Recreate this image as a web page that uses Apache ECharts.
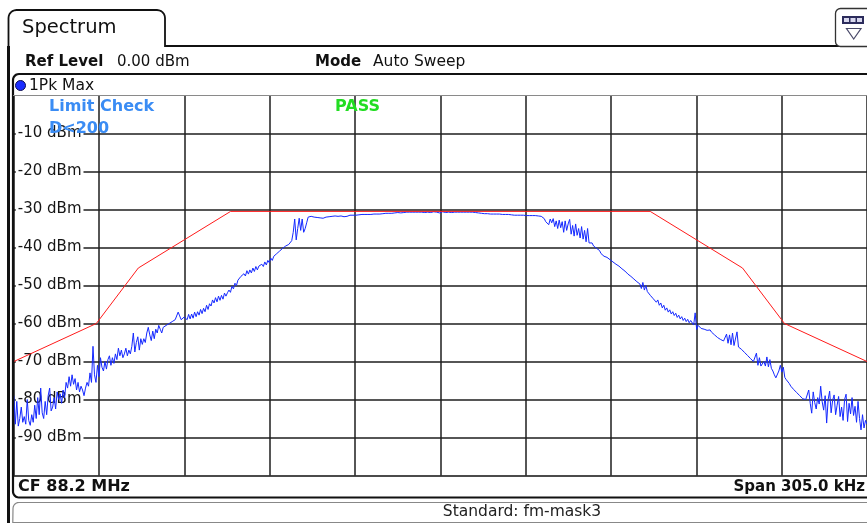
<!DOCTYPE html>
<html>
<head>
<meta charset="utf-8">
<script src="https://cdn.jsdelivr.net/npm/echarts@6/dist/echarts.min.js"></script>
<style>
  html, body { margin: 0; padding: 0; background: #fff; }
  #c { width: 867px; height: 525px; }
</style>
</head>
<body>
<div id="c"></div>
<script>
// Sweep: centre frequency and span (offsets in kHz from CF)
const centerMHz = 88.2;
const spanKHz = 305.0;

// Y-axis scale (dBm)
const refLevel = 0;
const bottomLevel = -100;
const yStep = 10;

// 1Pk Max trace, dBm, one value per sweep point across the full span
const traceLowerSkirt = [
  -79.0, -86.5, -80.5, -87.0, -85.0, -82.0, -86.0, -84.5, -86.5, -80.0,
  -85.5, -86.8, -84.0, -86.0, -81.5, -85.0, -79.5, -84.0, -77.0, -83.5,
  -85.0, -80.5, -84.0, -79.0, -77.0, -83.0, -82.0, -79.5, -82.5, -78.0,
  -80.0, -78.5, -81.0, -77.5, -79.5, -75.5, -77.0, -74.0, -76.5, -73.5,
  -76.0, -74.5, -77.5, -75.5, -78.0, -76.5, -77.5, -79.0, -77.0, -75.5,
  -76.5, -73.0, -75.5, -66.0, -73.5, -75.5, -71.0, -74.0,
  -69.0, -71.5, -72.5, -70.0, -72.0, -69.5, -68.5, -71.0, -69.0, -70.5,
  -68.0, -69.5, -66.5, -68.5, -67.0, -69.0, -68.0, -66.5, -68.5, -67.0,
  -68.0, -66.0, -62.5, -67.5, -65.0, -63.5, -67.0, -64.0, -65.5, -64.0,
  -65.0, -62.5, -61.0, -63.0, -64.5, -62.0, -64.0, -61.5, -62.5, -60.5,
  -61.5, -62.5, -61.0, -61.5, -60.5, -61.0, -60.0, -60.5, -59.5, -60.0,
  -59.0, -59.5, -57.0, -58.0, -59.0, -58.5, -58.3
];
const traceLowerSlope = [
  -58.0, -59.0, -57.6, -58.8, -57.5, -58.6, -57.0, -58.2, -56.9, -57.8,
  -56.3, -57.4, -56.0, -56.9, -55.2, -56.3, -54.8, -55.4, -53.8, -54.6,
  -53.2, -54.3, -52.8, -53.9, -52.6, -53.6, -52.0, -52.8, -51.9, -51.2,
  -51.8, -50.2, -50.9, -49.4, -50.0, -48.6, -49.0, -47.6, -48.1, -46.9,
  -47.5, -46.1, -47.0, -45.9, -46.7, -45.4, -46.3, -45.0, -45.9, -44.9,
  -45.3, -44.4, -45.0, -43.8, -44.6, -43.4, -44.0, -42.8, -43.4, -42.3,
  -42.7, -41.6, -41.9, -40.9, -41.3, -40.2, -40.5, -39.6, -39.9, -39.2,
  -39.0, -38.2, -36.0, -32.5, -38.0, -35.0, -32.3, -35.5, -32.5, -36.0,
  -35.0, -33.5, -32.0, -31.5, -31.8, -31.6, -32.0
];
const traceTop = [
  -31.8, -32.1, -31.7, -32.2, -31.9, -32.3, -31.8, -32.0, -32.2, -31.9,
  -32.1, -31.8, -32.0, -31.7, -31.9, -31.8, -32.0, -31.7, -31.8, -31.9,
  -31.6, -31.8, -31.7, -31.5, -31.6, -31.5, -31.4, -31.5, -31.4, -31.4,
  -31.4, -31.3, -31.4, -31.3, -31.3, -31.3, -31.2, -31.3, -31.2, -31.2,
  -31.2, -31.2, -31.1, -31.2, -31.1, -31.1, -31.1, -31.0, -31.1, -31.0,
  -31.0, -31.0, -30.9, -30.9, -30.9, -30.8, -30.8, -30.9, -30.8, -30.8,
  -30.8, -30.7, -30.8, -30.7, -30.7, -30.7, -30.8, -30.7, -30.7, -30.7,
  -30.7, -30.7, -30.7, -30.8, -30.7, -30.7, -30.7, -30.8, -30.7, -30.6,
  -30.6, -30.7, -31.2, -30.9, -30.7, -30.6, -30.7, -30.8, -30.7, -30.7,
  -30.7, -30.8, -30.7, -30.7, -30.7, -30.7, -30.8, -30.7, -30.7, -30.7,
  -30.7, -30.7, -30.8, -30.7, -30.7, -30.7, -30.8, -30.8, -30.9, -30.9,
  -31.0, -31.0, -31.0, -31.1, -31.1, -31.1, -31.1, -31.2, -31.1, -31.2,
  -31.2, -31.2, -31.3, -31.2, -31.3, -31.3, -31.3, -31.3, -31.4, -31.3,
  -31.4, -31.4, -31.4, -31.5, -31.4, -31.5, -31.5, -31.5, -31.4, -31.5,
  -31.5, -31.6, -31.5, -31.6, -31.5, -31.6, -31.7, -31.6, -31.8, -31.7,
  -32.0, -31.8, -32.2
];
const traceUpperSlope = [
  -32.4, -33.2, -32.8, -34.0, -32.5, -33.5, -32.4, -34.5, -33.0, -35.0,
  -32.8, -34.8, -33.2, -36.0, -33.0, -35.5, -33.8, -32.6, -36.5, -34.2,
  -37.0, -33.8, -36.8, -35.0, -37.5, -34.5, -37.8, -35.5, -38.5, -35.0,
  -38.8, -39.2, -38.8, -39.6, -39.8, -40.2, -40.6,
  -40.8, -41.6, -41.2, -42.3, -41.8, -42.6, -42.2, -43.2, -42.7, -43.8,
  -43.3, -44.4, -43.9, -44.9, -44.5, -45.6, -45.1, -46.2, -45.8, -47.0,
  -46.5, -47.6, -47.1, -48.3, -47.8, -49.0, -48.6, -49.6, -50.8, -49.2,
  -51.2, -50.0, -51.6, -51.2, -52.6, -52.1, -53.5, -53.0, -54.4, -53.8,
  -55.2, -54.6, -55.9, -55.2, -56.5, -55.9, -57.0, -56.4, -57.5, -56.9,
  -57.9, -57.3, -58.4, -57.8, -58.8, -58.2, -59.2, -58.6, -59.5, -58.9,
  -59.8, -59.2, -59.0, -60.4, -57.2, -61.6
];
const traceUpperSkirt = [
  -60.5, -61.0, -61.3, -60.8, -61.5, -61.2, -61.8, -62.0, -61.7, -62.3,
  -62.5, -63.0, -63.4, -63.7, -63.9, -64.2, -64.0, -64.6, -65.0, -62.8,
  -65.2, -63.0, -65.6, -62.5, -65.8, -66.0, -62.2, -66.2, -66.5, -66.8,
  -67.2, -67.6, -68.0, -68.4, -68.8, -69.2, -69.5, -70.0, -70.4, -67.8,
  -71.0, -69.0, -71.2, -71.5, -70.0, -71.2, -68.8, -71.4, -69.5, -71.8,
  -72.5, -73.5, -74.3, -73.8, -72.5, -71.0, -72.8, -71.5, -74.2, -74.8,
  -75.2, -75.8, -76.5, -76.8, -77.4, -77.8, -78.2, -78.0, -79.0, -79.5,
  -79.8, -80.2, -80.0, -80.4, -77.5, -81.0, -83.6, -78.0, -80.8, -82.5,
  -79.5, -81.2, -76.5, -80.6, -82.8, -79.0, -86.2, -80.0, -77.8, -83.5,
  -80.2, -78.8, -84.0, -81.5, -79.2, -84.5, -82.0, -85.5, -80.0, -78.6,
  -85.8, -81.0, -83.8, -79.5, -84.2, -81.8, -86.0, -80.5, -85.0, -88.0,
  -84.0, -87.5, -85.5, -86.5
];
const traceDbm = [].concat(traceLowerSkirt, traceLowerSlope, traceTop, traceUpperSlope, traceUpperSkirt);

// Limit line "D<200": offsets (kHz) and levels (dBm)
const limitOffsetsKHz = [-152.5, -123, -108, -75, 75, 108, 123, 152.5];
const limitLevelsDbm  = [-70, -60, -45.4, -30.5, -30.5, -45.4, -60, -70];

const half = spanKHz / 2;
const nPts = traceDbm.length;
const traceData = traceDbm.map((v, i) => [-half + i * spanKHz / (nPts - 1), v]);
const limitData = limitOffsetsKHz.map((f, i) => [f, limitLevelsDbm[i]]);

// quarter-circle corner points for the frame outlines
function corner(cx, cy, r, a0, a1) {
  const pts = [];
  for (let k = 0; k <= 6; k++) {
    const a = (a0 + (a1 - a0) * k / 6) * Math.PI / 180;
    pts.push([cx + r * Math.cos(a), cy + r * Math.sin(a)]);
  }
  return pts;
}

const tabOutline = [[8.5, 523]]
  .concat(corner(16.5, 18, 8, 180, 270))
  .concat(corner(157, 18, 8, 270, 360))
  .concat([[165, 46], [867, 46]]);
const innerBox = [[867, 74]]
  .concat(corner(19, 80, 6, 270, 180))
  .concat(corner(19, 491.5, 6, 180, 90))
  .concat([[867, 497.5]]);
const statusBox = [[867, 502.5]]
  .concat(corner(19, 508.5, 6, 270, 180))
  .concat([[12.8, 522.5], [867, 522.5]]);

const chart = echarts.init(document.getElementById('c'), null, { renderer: 'canvas', width: 867, height: 525 });

const gridLine = { color: '#1e1e1e', width: 1.5 };
const txt = (x, y, text, font, fill, align) => ({
  type: 'text', z: 30, x, y,
  style: { text, font, fill, textAlign: align || 'left', textVerticalAlign: 'middle' }
});

chart.setOption({
  backgroundColor: '#ffffff',
  animation: false,
  grid: { left: 13.8, top: 95.5, width: 857, height: 380, show: false },
  xAxis: {
    type: 'value', min: -half, max: half, interval: spanKHz / 10,
    axisLine: { show: true, onZero: false, lineStyle: { color: '#111', width: 1.5 } },
    axisTick: { show: false }, axisLabel: { show: false },
    splitLine: { show: true, lineStyle: gridLine }
  },
  yAxis: [
    {
      type: 'value', min: bottomLevel, max: refLevel, interval: yStep, z: 0,
      axisLine: { show: false }, axisTick: { show: false }, axisLabel: { show: false },
      splitLine: { show: true, showMaxLine: false, showMinLine: false, lineStyle: gridLine }
    },
    {
      type: 'value', min: bottomLevel, max: refLevel, interval: yStep, z: 1,
      position: 'left',
      axisLine: { show: false }, axisTick: { show: false }, splitLine: { show: false },
      axisLabel: {
        inside: true, margin: 2, showMinLabel: false, showMaxLabel: false,
        formatter: v => v + ' dBm',
        color: '#161616', fontFamily: 'DejaVu Sans', fontSize: 15,
        backgroundColor: '#ffffff', padding: [0, 2, 0, 2]
      }
    }
  ],
  series: [
    {
      name: 'Limit', type: 'line', data: limitData, yAxisIndex: 0, z: 3,
      symbol: 'none', lineStyle: { color: '#ff1a1a', width: 1 }, silent: true
    },
    {
      name: '1Pk Max', type: 'line', data: traceData, yAxisIndex: 0, z: 2,
      symbol: 'none', lineStyle: { color: '#1428ff', width: 1 }, silent: true
    }
  ],
  graphic: [
    { type: 'polyline', z: 20, shape: { points: tabOutline }, style: { fill: 'none', stroke: '#111', lineWidth: 1.8 } },
    { type: 'rect', z: 20, shape: { x: 7, y: 46, width: 3, height: 477 }, style: { fill: '#111' } },
    { type: 'polyline', z: 20, shape: { points: innerBox }, style: { fill: 'none', stroke: '#111', lineWidth: 2.2 } },
    { type: 'line', z: 20, shape: { x1: 13, y1: 95.5, x2: 867, y2: 95.5 }, style: { stroke: '#8a8a8a', lineWidth: 1 } },
    { type: 'polyline', z: 20, shape: { points: statusBox }, style: { fill: 'none', stroke: '#888', lineWidth: 1.2 } },
    // toolbar icon
    { type: 'rect', z: 20, shape: { x: 835.5, y: 8.5, width: 36, height: 38, r: 5 }, style: { fill: '#fff', stroke: '#333', lineWidth: 1.3 } },
    { type: 'rect', z: 21, shape: { x: 842, y: 16, width: 22, height: 8 }, style: { fill: '#2c2c5c' } },
    { type: 'rect', z: 22, shape: { x: 844, y: 18, width: 5, height: 4 }, style: { fill: '#d8d8ee' } },
    { type: 'rect', z: 22, shape: { x: 850.5, y: 18, width: 5, height: 4 }, style: { fill: '#d8d8ee' } },
    { type: 'rect', z: 22, shape: { x: 857, y: 18, width: 5, height: 4 }, style: { fill: '#d8d8ee' } },
    { type: 'polygon', z: 21, shape: { points: [[846.5, 28.5], [861, 28.5], [853.7, 39]] }, style: { fill: 'none', stroke: '#4a4a6a', lineWidth: 1.2 } },
    { type: 'circle', z: 30, shape: { cx: 20.5, cy: 85.5, r: 5 }, style: { fill: '#1a2cff', stroke: '#0b0b50', lineWidth: 1 } },

    txt(22, 28, 'Spectrum', '19.5px "DejaVu Sans"', '#111'),
    txt(25, 62, 'Ref Level', 'bold 15px "DejaVu Sans"', '#111'),
    txt(117, 62, '0.00 dBm', '15px "DejaVu Sans"', '#111'),
    txt(315, 62, 'Mode', 'bold 15px "DejaVu Sans"', '#111'),
    txt(373, 62, 'Auto Sweep', '15.5px "DejaVu Sans"', '#111'),
    txt(29, 86, '1Pk Max', '15.5px "DejaVu Sans"', '#111'),
    txt(49, 107, 'Limit Check', 'bold 16px "DejaVu Sans"', '#3a8cf4'),
    txt(49, 129, 'D<200', 'bold 16px "DejaVu Sans"', '#3a8cf4'),
    txt(335, 107, 'PASS', 'bold 16px "DejaVu Sans"', '#22dd22'),
    txt(18, 487, 'CF ' + centerMHz.toFixed(1) + ' MHz', 'bold 16px "DejaVu Sans"', '#111'),
    txt(865, 487, 'Span ' + spanKHz.toFixed(1) + ' kHz', 'bold 15px "DejaVu Sans"', '#111', 'right'),
    txt(522, 512, 'Standard: fm-mask3', '15.5px "DejaVu Sans"', '#222', 'center')
  ]
});
</script>
</body>
</html>
